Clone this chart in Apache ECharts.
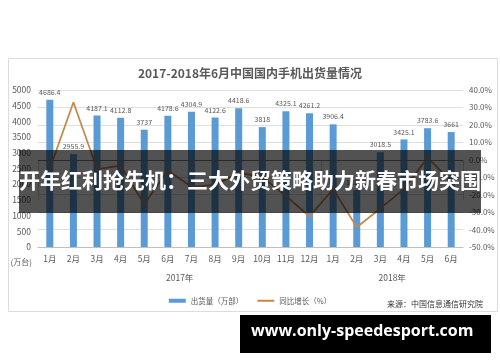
<!DOCTYPE html>
<html><head><meta charset="utf-8">
<script src="https://cdn.jsdelivr.net/npm/echarts@6/dist/echarts.min.js"></script>
<style>html,body{margin:0;padding:0;background:#fff}#c{width:500px;height:362px}</style>
</head><body><div id="c"></div>
<script>
const months = ['1月','2月','3月','4月','5月','6月','7月','8月','9月','10月','11月','12月','1月','2月','3月','4月','5月','6月'];
const years = ['2017年','2018年'];
const shipments = [4686.4,2955.9,4187.1,4112.8,3737,4178.6,4304.9,4122.6,4418.6,3818,4325.1,4261.2,3906.4,1810.6,3018.5,3425.1,3783.6,3661];
const growth = [-5.1,33.0,-5.3,-3.3,-25.5,-6.2,-15.5,-14.4,-7.4,-10.0,-20.7,-32.5,-16.7,-38.7,-27.9,-16.7,1.2,-12.4];
const leftTicks = {min:0,max:5000,interval:500};
const rightTicks = {min:-50,max:40,interval:10};
const seriesNames = ['出货量（万部）','同比增长（%）'];
const unitText = '(万台)';
const titleText = '2017-2018年6月中国国内手机出货量情况';
const sourceText = '来源：中国信息通信研究院';
const bannerText = '开年红利抢先机：三大外贸策略助力新春市场突围';
const siteText = 'www.only-speedesport.com';

const gray = '#595959';
const font = '"Noto Sans CJK SC", sans-serif';
const chart = echarts.init(document.getElementById('c'), null, {renderer:'canvas'});
chart.setOption({
  animation:false,
  textStyle:{fontFamily:font},
  title:[
    {text:titleText,left:'center',top:62,textStyle:{fontSize:12,fontWeight:'bold',color:gray,fontFamily:font}},
    {text:sourceText,right:12,top:295,textStyle:{fontSize:8,fontWeight:'normal',color:'#333',fontFamily:font}}
  ],
  legend:{
    left:'center',top:292,itemWidth:17,itemHeight:4,itemGap:14,
    textStyle:{fontSize:7.5,color:gray,fontFamily:font},
    data:[{name:seriesNames[0],icon:'rect'},{name:seriesNames[1],icon:'path://M0,0H100V12H0Z'}]
  },
  grid:{left:38,right:37,top:90,bottom:115},
  xAxis:[
    {type:'category',data:months,position:'bottom',
     axisLine:{lineStyle:{color:'#bfbfbf'}},axisTick:{show:false},
     axisLabel:{fontSize:8.5,color:gray,margin:8,interval:0}},
    {type:'value',min:0,max:months.length,position:'bottom',
     axisLine:{show:false},splitLine:{show:false},
     axisTick:{show:true,customValues:[0,12,18],length:40,lineStyle:{color:'#d0d0d0'}},
     axisLabel:{customValues:[6,15],margin:27,fontSize:8.5,color:gray,
       formatter:(v)=> v<12?years[0]:years[1]}}
  ],
  yAxis:[
    {type:'value',min:leftTicks.min,max:leftTicks.max,interval:leftTicks.interval,
     name:unitText,nameLocation:'start',nameGap:11,
     nameTextStyle:{fontSize:8,color:gray,align:'right',padding:[0,6,0,0]},
     axisLine:{show:false},axisTick:{show:false},splitLine:{show:false},
     axisLabel:{fontSize:8.5,color:gray,margin:7,formatter:(v)=>String(v)}},
    {type:'value',min:rightTicks.min,max:rightTicks.max,interval:rightTicks.interval,position:'right',
     axisLine:{show:false},axisTick:{show:false},
     splitLine:{show:true,lineStyle:{color:'#dedede'}},
     axisLabel:{fontSize:8,color:gray,margin:6,formatter:(v)=>v.toFixed(1)+'%'}}
  ],
  series:[
    {name:seriesNames[0],type:'bar',xAxisIndex:0,yAxisIndex:0,data:shipments,barWidth:7,
     itemStyle:{color:'#5b9bd5'},
     label:{show:true,position:'top',distance:4,fontSize:7,color:gray,formatter:(p)=>String(p.value)}},
    {name:seriesNames[1],type:'line',xAxisIndex:0,yAxisIndex:1,symbol:'none',
     data:growth.map((v,i)=> i===1 ? {value:v,label:{position:'top',distance:3}} : v),
     lineStyle:{color:'#c9864b',width:1.75},itemStyle:{color:'#c9864b'},
     label:{show:true,position:'right',distance:5,fontSize:7,color:gray,formatter:(p)=>p.value.toFixed(1)+'%'},
     markLine:{silent:true,symbol:'none',label:{show:false},lineStyle:{color:'#808080',type:'solid',width:1},data:[{yAxis:0}]}}
  ],
  graphic:[
    {type:'rect',left:6,top:56,shape:{width:489,height:253},style:{fill:'none',stroke:'#dcdcdc',lineWidth:1},z:-1},
    {type:'rect',left:19,top:150,shape:{width:462,height:63},style:{fill:'rgba(0,0,0,0.68)'},z:100},
    {type:'text',left:'center',top:170,style:{text:bannerText,fill:'#fff',font:'bold 21px "Noto Sans CJK SC", sans-serif'},z:101},
    {type:'rect',left:240,top:315,shape:{width:251,height:38},style:{fill:'#000'},z:100},
    {type:'text',left:251,top:323,style:{text:siteText,fill:'#fff',font:'bold 16px "Open Sans", sans-serif'},z:101}
  ]
});
</script></body></html>
